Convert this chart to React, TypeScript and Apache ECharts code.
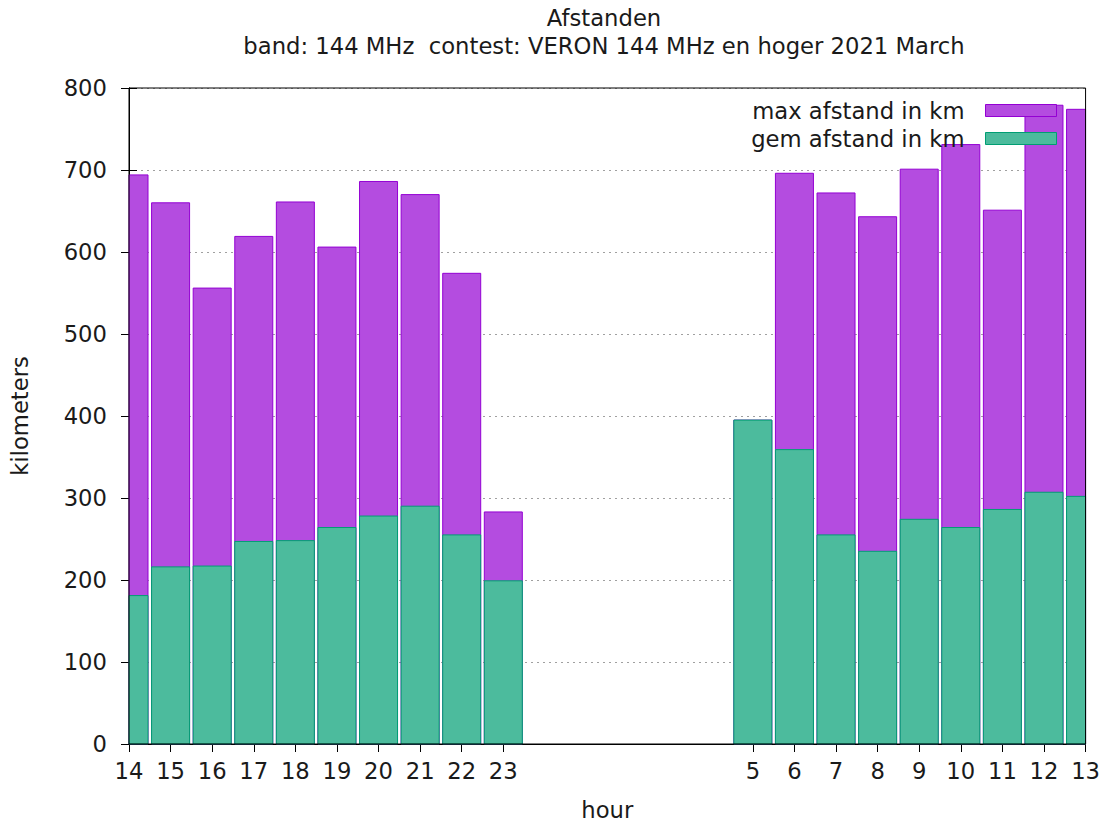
import React, { useEffect, useRef } from "react";
import * as echarts from "echarts";

const titleLine1 = "Afstanden";
const titleLine2 = "band: 144 MHz  contest: VERON 144 MHz en hoger 2021 March";
const startHour = 14;
const hours = [14, 15, 16, 17, 18, 19, 20, 21, 22, 23, 5, 6, 7, 8, 9, 10, 11, 12, 13];
const maxKm = [694, 660, 556, 619, 661, 606, 686, 670, 574, 283, 395, 696, 672, 643, 701, 731, 651, 779, 774];
const gemKm = [181, 216, 217, 247, 248, 264, 278, 290, 255, 199, 395, 359, 255, 235, 274, 264, 286, 307, 302];
const seriesNames = ["max afstand in km", "gem afstand in km"];
const yMin = 0;
const yMax = 800;
const yStep = 100;

const FONT = "DejaVu Sans";
const FS = 22.7;
const pos = (h: number) => (h - startHour + 24) % 24;
const positions = hours.map(pos);
const labelFor = (v: number) => {
  const i = positions.indexOf(Math.round(v));
  return i >= 0 ? String(hours[i]) : "";
};

const purple = { color: "#b44ce0", borderColor: "#9400d3", borderWidth: 1 };
const green = { color: "#4cbb9d", borderColor: "#009e73", borderWidth: 1 };

const renderBox = (params: any, api: any) => {
  const p = api.value(0);
  const v = api.value(1);
  const top = api.coord([p, v]);
  const bottom = api.coord([p, 0]);
  const w = 38;
  const cs = params.coordSys;
  const shape = echarts.graphic.clipRectByRect(
    { x: top[0] - w / 2, y: top[1], width: w, height: bottom[1] - top[1] },
    { x: cs.x, y: cs.y, width: cs.width, height: cs.height }
  );
  if (!shape) return null;
  return { type: "rect", shape, style: api.style() };
};

export default function App() {
  const ref = useRef<HTMLDivElement>(null);
  useEffect(() => {
    if (!ref.current) return;
    const chart = echarts.init(ref.current, null, { renderer: "svg" });
    const textStyle = { fontFamily: FONT, fontSize: FS, color: "#1a1a1a" };
    chart.setOption({
      animation: false,
      backgroundColor: "#fff",
      textStyle: { fontFamily: FONT },
      graphic: [
        {
          type: "text",
          x: 604,
          y: 18,
          style: { text: titleLine1, textAlign: "center", textVerticalAlign: "middle", font: `${FS}px '${FONT}'`, fill: "#1a1a1a" },
        },
        {
          type: "text",
          x: 604,
          y: 46,
          style: { text: titleLine2, textAlign: "center", textVerticalAlign: "middle", font: `${FS}px '${FONT}'`, fill: "#1a1a1a" },
        },
      ],
      grid: {
        left: 129,
        right: 15,
        top: 88,
        bottom: 81,
        show: true,
        z: 10,
        borderColor: "#000",
        borderWidth: 1,
        backgroundColor: "transparent",
      },
      legend: {
        orient: "vertical",
        right: 46,
        top: 99,
        padding: 0,
        align: "right",
        itemWidth: 71,
        itemHeight: 12,
        itemGap: 5,
        icon: "rect",
        selectedMode: false,
        textStyle: { ...textStyle, lineHeight: 22, padding: [0, 16, 0, 0] },
        data: [
          { name: seriesNames[0], itemStyle: purple },
          { name: seriesNames[1], itemStyle: green },
        ],
      },
      xAxis: [
        {
          type: "value",
          min: 0,
          max: 23,
          interval: 1,
          name: "hour",
          nameLocation: "middle",
          nameGap: 54,
          nameTextStyle: textStyle,
          axisLine: { show: true, lineStyle: { color: "#000" } },
          axisTick: { show: true, inside: true, length: 8, customValues: positions, lineStyle: { color: "#000" } },
          axisLabel: {
            ...textStyle,
            margin: 15,
            customValues: positions,
            showMinLabel: true,
            showMaxLabel: true,
            formatter: (v: number) => labelFor(v),
          },
          splitLine: { show: false },
        },
        {
          type: "value",
          position: "top",
          min: 0,
          max: 23,
          interval: 1,
          axisLine: { show: true, lineStyle: { color: "#000" } },
          axisTick: { show: true, inside: true, length: 8, customValues: positions, lineStyle: { color: "#000" } },
          axisLabel: { show: false },
          splitLine: { show: false },
        },
      ],
      yAxis: [
        {
          type: "value",
          min: yMin,
          max: yMax,
          interval: yStep,
          name: "kilometers",
          nameLocation: "middle",
          nameRotate: 90,
          nameGap: 98,
          nameTextStyle: textStyle,
          axisLine: { show: true, lineStyle: { color: "#000" } },
          axisTick: { show: true, inside: true, length: 8, lineStyle: { color: "#000" } },
          axisLabel: { ...textStyle, margin: 22 },
          splitLine: { show: true, lineStyle: { color: "#a0a0a0", type: [2, 4], width: 1 } },
        },
        {
          type: "value",
          position: "right",
          min: yMin,
          max: yMax,
          interval: yStep,
          axisLine: { show: true, lineStyle: { color: "#000" } },
          axisTick: { show: true, inside: true, length: 8, lineStyle: { color: "#000" } },
          axisLabel: { show: false },
          splitLine: { show: false },
        },
      ],
      series: [
        {
          name: seriesNames[0],
          type: "custom",
          xAxisIndex: 0,
          yAxisIndex: 0,
          renderItem: renderBox,
          encode: { x: 0, y: 1 },
          itemStyle: purple,
          data: positions.map((p, i) => [p, maxKm[i]]),
        },
        {
          name: seriesNames[1],
          type: "custom",
          xAxisIndex: 0,
          yAxisIndex: 0,
          renderItem: renderBox,
          encode: { x: 0, y: 1 },
          itemStyle: green,
          data: positions.map((p, i) => [p, gemKm[i]]),
        },
      ],
    });
    return () => chart.dispose();
  }, []);
  return <div ref={ref} style={{ position: "fixed", left: 0, top: 0, width: 1103, height: 826 }} />;
}
